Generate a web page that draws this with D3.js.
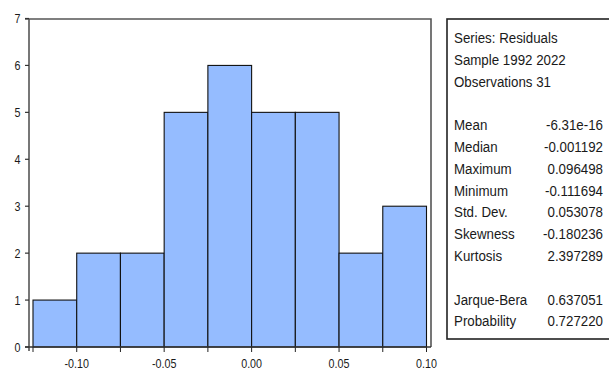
<!DOCTYPE html>
<html>
<head>
<meta charset="utf-8">
<script src="https://cdn.jsdelivr.net/npm/d3@7"></script>
<style>
  html, body { margin: 0; padding: 0; background: #fff; }
  svg { display: block; }
  text { font-family: "Liberation Sans", Arial, sans-serif; fill: #1a1a1a; }
</style>
</head>
<body>
<svg id="chart" width="609" height="371"></svg>
<script>
// Histogram of residuals: bins of width 0.025 starting at -0.125
const binStarts = [-0.125, -0.100, -0.075, -0.050, -0.025, 0.000, 0.025, 0.050, 0.075];
const binWidth = 0.025;
const counts = [1, 2, 2, 5, 6, 5, 5, 2, 3];

const xTickValues = [-0.10, -0.05, 0.00, 0.05, 0.10];
const xTickLabels = ["-0.10", "-0.05", "0.00", "0.05", "0.10"];
const yTickValues = [0, 1, 2, 3, 4, 5, 6, 7];

// Descriptive statistics panel
const headerLines = ["Series: Residuals", "Sample 1992 2022", "Observations 31"];
const statNames = ["Mean", "Median", "Maximum", "Minimum", "Std. Dev.", "Skewness", "Kurtosis"];
const statValues = ["-6.31e-16", "-0.001192", "0.096498", "-0.111694", "0.053078", "-0.180236", "2.397289"];
const testNames = ["Jarque-Bera", "Probability"];
const testValues = ["0.637051", "0.727220"];

const svg = d3.select("#chart");

const frame = { left: 29, right: 431, top: 19, bottom: 347 };
const x = d3.scaleLinear().domain([-0.125, 0.10]).range([33, 426.5]);
const y = d3.scaleLinear().domain([0, 7]).range([frame.bottom, 18.5]);

const squeeze = 0.86;

// bars
svg.append("g")
  .selectAll("rect")
  .data(binStarts.map((s, i) => ({ x0: s, x1: s + binWidth, n: counts[i] })))
  .join("rect")
  .attr("x", d => x(d.x0))
  .attr("y", d => y(d.n))
  .attr("width", d => x(d.x1) - x(d.x0))
  .attr("height", d => y(0) - y(d.n))
  .attr("fill", "#95bcff")
  .attr("stroke", "#111")
  .attr("stroke-width", 1.1);

// small ticks below the axis at every bin edge
const edges = binStarts.concat([binStarts[binStarts.length - 1] + binWidth]);
svg.append("g")
  .selectAll("line")
  .data(edges)
  .join("line")
  .attr("x1", d => x(d)).attr("x2", d => x(d))
  .attr("y1", frame.bottom).attr("y2", frame.bottom + 5)
  .attr("stroke", "#222").attr("stroke-width", 1);

// frame: top, right and left
svg.append("path")
  .attr("d", `M${frame.left - 4},${frame.top}H${frame.right}V${frame.bottom}`)
  .attr("fill", "none").attr("stroke", "#555").attr("stroke-width", 1.6);
svg.append("line")
  .attr("x1", frame.left).attr("x2", frame.left)
  .attr("y1", frame.top).attr("y2", frame.bottom + 4)
  .attr("stroke", "#555").attr("stroke-width", 1.6);
// x axis baseline
svg.append("line")
  .attr("x1", frame.left - 4).attr("x2", frame.right)
  .attr("y1", frame.bottom).attr("y2", frame.bottom)
  .attr("stroke", "#333").attr("stroke-width", 1.6);

// y axis ticks and labels
const yAxis = svg.append("g");
yAxis.selectAll("line")
  .data(yTickValues)
  .join("line")
  .attr("x1", frame.left - 4).attr("x2", frame.left)
  .attr("y1", d => y(d)).attr("y2", d => y(d))
  .attr("stroke", "#333").attr("stroke-width", 1.2);
yAxis.selectAll("text")
  .data(yTickValues)
  .join("text")
  .attr("transform", d => `translate(20.5,${y(d) + 4.6}) scale(${squeeze},1)`)
  .attr("text-anchor", "end")
  .style("font-size", "12.5px")
  .text(d => d);

// x axis labels
svg.append("g")
  .selectAll("text")
  .data(xTickValues)
  .join("text")
  .attr("transform", d => `translate(${x(d)},368) scale(${squeeze},1)`)
  .attr("text-anchor", "middle")
  .style("font-size", "12.5px")
  .text((d, i) => xTickLabels[i]);

// statistics box
svg.append("rect")
  .attr("x", 447).attr("y", 19)
  .attr("width", 180).attr("height", 320)
  .attr("fill", "none").attr("stroke", "#222").attr("stroke-width", 1.6);

const lineY = i => 43 + 21.8 * i;
const stats = svg.append("g").style("font-size", "15.5px");
const leftRows = [];
const rightRows = [];
headerLines.forEach((t, i) => leftRows.push({ t, i }));
statNames.forEach((t, i) => {
  leftRows.push({ t, i: i + 4 });
  rightRows.push({ t: statValues[i], i: i + 4 });
});
testNames.forEach((t, i) => {
  leftRows.push({ t, i: i + 12 });
  rightRows.push({ t: testValues[i], i: i + 12 });
});

stats.selectAll("text.l")
  .data(leftRows)
  .join("text")
  .attr("class", "l")
  .attr("transform", d => `translate(454,${lineY(d.i)}) scale(0.86,1)`)
  .text(d => d.t);
stats.selectAll("text.r")
  .data(rightRows)
  .join("text")
  .attr("class", "r")
  .attr("text-anchor", "end")
  .attr("transform", d => `translate(603,${lineY(d.i)}) scale(0.86,1)`)
  .text(d => d.t);
</script>
</body>
</html>
